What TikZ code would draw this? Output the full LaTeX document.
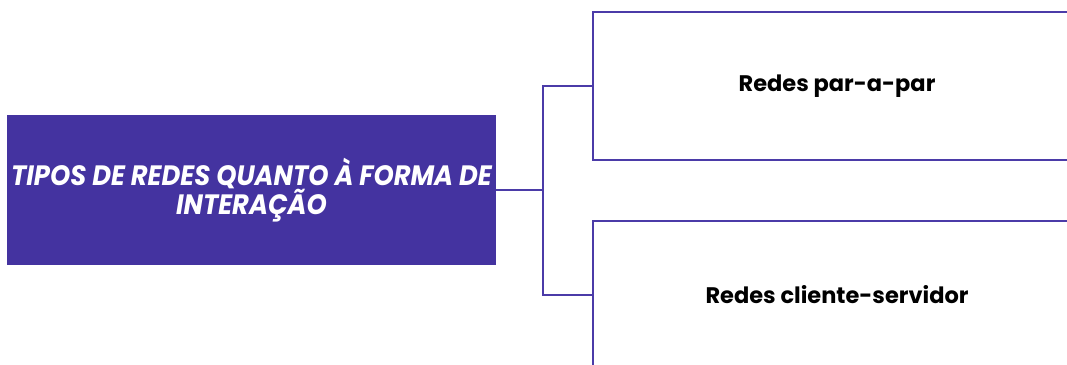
\documentclass[tikz,border=0pt]{standalone}
\usepackage{fontspec}
\setmainfont{Poppins}
\newfontfamily\titlefont[FakeStretch=0.92]{Poppins}
\newfontfamily\leaffont[FakeStretch=1.0]{Poppins}
\definecolor{boxpurple}{RGB}{68,51,160}
\definecolor{linepurple}{RGB}{75,59,168}
\begin{document}
\begin{tikzpicture}[x=1pt,y=-1pt,
  mainbox/.style={fill=boxpurple,draw=none,minimum width=489pt,minimum height=150pt,inner sep=0pt,
    text=white,align=center,font=\titlefont\bfseries\itshape\fontsize{28}{27}\selectfont},
  leafbox/.style={draw=linepurple,line width=2.2pt,fill=white,minimum width=488pt,minimum height=148pt,inner sep=0pt,
    font=\leaffont\bfseries\fontsize{22.5}{24}\selectfont},
  conn/.style={draw=linepurple,line width=2.2pt}]
\useasboundingbox (0,0) rectangle (1067,364);
\clip (0,0) rectangle (1067,364);
\fill[white] (0,0) rectangle (1067,364);
\node[mainbox] (L) at (251.5,190) {TIPOS DE REDES QUANTO À FORMA DE\\INTERAÇÃO};
\node[leafbox] (A) at (837,86) {Redes par-a-par};
\node[leafbox] (B) at (837,295) {Redes cliente-servidor};
\draw[conn] (L.east) -- ++(47,0) coordinate (J);
\draw[conn] (J) |- (A.west);
\draw[conn] (J) |- (B.west);
\end{tikzpicture}
\end{document}
